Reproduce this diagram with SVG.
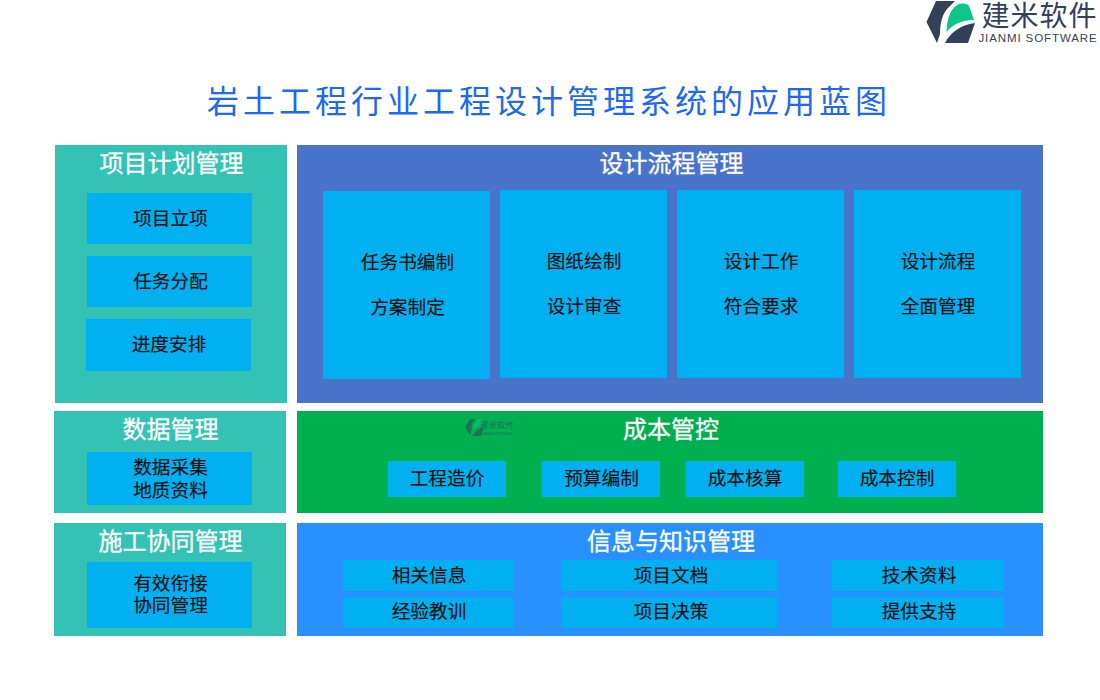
<svg xmlns="http://www.w3.org/2000/svg" width="1100" height="700" viewBox="0 0 1100 700">
<style>
text{font-family:"Liberation Serif","Noto Sans CJK SC",serif;text-anchor:middle}
.h{font-size:24px;fill:#fff;stroke:#fff;stroke-width:.3px}
.t{font-size:18.67px;fill:#111;stroke:#111;stroke-width:.15px}
.c{fill:#00b0f0}
.teal{fill:#33c2b4}
</style>
<rect width="1100" height="700" fill="#fff"/>
<g id="logo">
<path d="M936 1L955 1L947 9C942 15 940 24 940 34L937 43L926.500 22Z" fill="#343f5c"/>
<path d="M946.500 32C947 18 951 7 959 4C964 3 968 4 969 6L974 20C962 20 953 24 946.500 32Z" fill="#0cc78a"/>
<path d="M945 43C950 33 960 25 975 23L968 43Z" fill="#343f5c"/>
<text x="1039.500" y="26" style="font-family:'Noto Sans CJK SC',sans-serif;font-size:28px;fill:#343f5c;letter-spacing:1px">建米软件</text>
<text x="1038" y="42" style="font-family:'Liberation Sans',sans-serif;font-size:11.500px;fill:#343f5c;letter-spacing:.9px">JIANMI SOFTWARE</text>
</g>
<text id="title" x="549" y="113" style="font-size:32px;fill:#2168ee;letter-spacing:4px">岩土工程行业工程设计管理系统的应用蓝图</text>
<g id="plan">
<rect class="teal" x="55" y="145" width="232" height="258"/>
<text class="h" x="171.500" y="172">项目计划管理</text>
<rect class="c" x="87" y="193" width="165" height="51"/><text class="t" x="170.500" y="225">项目立项</text>
<rect class="c" x="87" y="256" width="165" height="51"/><text class="t" x="170.500" y="288">任务分配</text>
<rect class="c" x="86" y="319" width="165" height="52"/><text class="t" x="169" y="351">进度安排</text>
</g>
<g id="design">
<rect x="297" y="145" width="746" height="258" fill="#4a73cb"/>
<text class="h" x="671.500" y="172">设计流程管理</text>
<rect class="c" x="323" y="191" width="167" height="188"/><text class="t" x="407.500" y="269">任务书编制</text><text class="t" x="407.500" y="314">方案制定</text>
<rect class="c" x="500" y="190" width="167" height="188"/><text class="t" x="584" y="268">图纸绘制</text><text class="t" x="584" y="313">设计审查</text>
<rect class="c" x="677" y="190" width="167" height="188"/><text class="t" x="761" y="268">设计工作</text><text class="t" x="761" y="313">符合要求</text>
<rect class="c" x="854" y="190" width="167" height="188"/><text class="t" x="938" y="268">设计流程</text><text class="t" x="938" y="313">全面管理</text>
</g>
<g id="data">
<rect class="teal" x="54" y="411" width="232" height="102"/>
<text class="h" x="170.500" y="438">数据管理</text>
<rect class="c" x="87" y="452" width="165" height="53"/><text class="t" x="170.500" y="474">数据采集</text><text class="t" x="170.500" y="497">地质资料</text>
</g>
<g id="cost">
<rect x="297" y="411" width="746" height="102" fill="#00b050"/>
<text class="h" x="671" y="438">成本管控</text>
<g id="watermark" opacity=".55">
<path d="M470 419L475 419L472 424L471 432L470 435L465 427Z" fill="#343f5c"/>
<path d="M473.500 430C474 424 476 420 479 419C481 419 482 420 483 424C479 425 476 427 473.500 430Z" fill="#0cc78a"/>
<path d="M473 436C475 431 479 428 484 427L481 436Z" fill="#343f5c"/>
<text x="497" y="428" style="font-family:'Noto Sans CJK SC',sans-serif;font-size:8.500px;fill:#343f5c">建米软件</text>
<text x="497" y="434.500" style="font-family:'Liberation Sans',sans-serif;font-size:3.500px;fill:#343f5c">JIANMI SOFTWARE</text>
</g>
<rect class="c" x="388" y="461" width="118" height="36"/><text class="t" x="447" y="485">工程造价</text>
<rect class="c" x="542" y="461" width="118" height="36"/><text class="t" x="601.500" y="485">预算编制</text>
<rect class="c" x="686" y="461" width="118" height="36"/><text class="t" x="745" y="485">成本核算</text>
<rect class="c" x="838" y="461" width="118" height="36"/><text class="t" x="897" y="485">成本控制</text>
</g>
<g id="construction">
<rect class="teal" x="54" y="523" width="232" height="113"/>
<text class="h" x="170.500" y="550">施工协同管理</text>
<rect class="c" x="87" y="562" width="165" height="66"/><text class="t" x="170.500" y="590">有效衔接</text><text class="t" x="170.500" y="612">协同管理</text>
</g>
<g id="knowledge">
<rect x="297" y="523" width="746" height="113" fill="#2890ff"/>
<text class="h" x="671" y="550">信息与知识管理</text>
<rect class="c" x="343" y="560" width="171" height="31"/><text class="t" x="429" y="582">相关信息</text>
<rect class="c" x="561" y="560" width="216" height="31"/><text class="t" x="671" y="582">项目文档</text>
<rect class="c" x="832" y="560" width="172" height="31"/><text class="t" x="919" y="582">技术资料</text>
<rect class="c" x="343" y="597" width="171" height="31"/><text class="t" x="429" y="618">经验教训</text>
<rect class="c" x="561" y="597" width="216" height="31"/><text class="t" x="671" y="618">项目决策</text>
<rect class="c" x="832" y="597" width="172" height="31"/><text class="t" x="919" y="618">提供支持</text>
</g>
</svg>
